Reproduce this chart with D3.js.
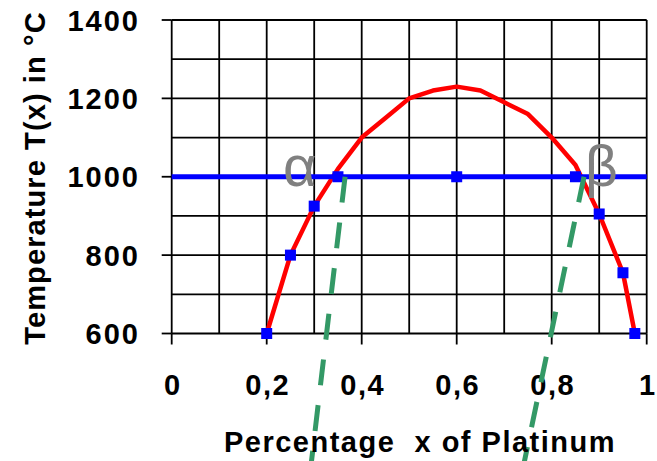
<!DOCTYPE html>
<html>
<head>
<meta charset="utf-8">
<script src="https://cdn.jsdelivr.net/npm/d3@7"></script>
<style>
  html, body { margin: 0; padding: 0; background: #fff; }
  svg { display: block; }
  text { font-family: "Liberation Sans", Arial, sans-serif; font-weight: bold; }
</style>
</head>
<body>
<svg id="vis" width="657" height="461"></svg>
<script>
// liquidus / solidus curve (red)
const curveX = [0.2, 0.25, 0.3, 0.35, 0.4, 0.45, 0.5, 0.55, 0.6, 0.65, 0.7, 0.75, 0.8, 0.85, 0.9, 0.95, 0.975];
const curveT = [600, 800, 925, 1020, 1100, 1150, 1200, 1220, 1230, 1220, 1190, 1160, 1100, 1030, 905, 755, 600];

// blue markers
const markX = [0.2, 0.25, 0.3, 0.35, 0.6, 0.85, 0.9, 0.95, 0.975];
const markT = [600, 800, 925, 1000, 1000, 1000, 905, 755, 600];

// horizontal line at T = 1000
const hLineX = [0, 1];
const hLineT = [1000, 1000];

// green dashed tangents
const tangentA = [[0.365, 1000], [0.29, 230]];
const tangentB = [[0.868, 1000], [0.735, 230]];

const xTicks = [0, 0.2, 0.4, 0.6, 0.8, 1];
const xTickLabels = ["0", "0,2", "0,4", "0,6", "0,8", "1"];
const yTicks = [600, 800, 1000, 1200, 1400];

const svg = d3.select("svg#vis");

const x = d3.scaleLinear().domain([0, 1]).range([171.7, 646.7]);
const y = d3.scaleLinear().domain([600, 1400]).range([333.5, 20]);

// grid
let grid = svg.append("g");
grid.selectAll("line.v")
    .data(d3.range(0, 11).map(d => d / 10))
    .enter().append("line")
    .attr("x1", d => x(d)).attr("x2", d => x(d))
    .attr("y1", y(1400)).attr("y2", y(600))
    .attr("stroke", "#000").attr("stroke-width", 1.8);
grid.selectAll("line.h")
    .data(d3.range(600, 1401, 100))
    .enter().append("line")
    .attr("x1", x(0)).attr("x2", x(1))
    .attr("y1", d => y(d)).attr("y2", d => y(d))
    .attr("stroke", "#000").attr("stroke-width", 1.8);

// axes ticks
grid.selectAll("line.xt")
    .data(xTicks)
    .enter().append("line")
    .attr("x1", d => x(d)).attr("x2", d => x(d))
    .attr("y1", y(600)).attr("y2", y(600) + 11)
    .attr("stroke", "#000").attr("stroke-width", 1.8);
grid.selectAll("line.yt")
    .data(yTicks)
    .enter().append("line")
    .attr("x1", x(0) - 10).attr("x2", x(0))
    .attr("y1", d => y(d)).attr("y2", d => y(d))
    .attr("stroke", "#000").attr("stroke-width", 1.8);

svg.selectAll("text.xl")
    .data(xTicks)
    .enter().append("text")
    .attr("x", d => x(d) + 1)
    .attr("y", 395)
    .attr("text-anchor", "middle")
    .attr("font-size", 29)
    .style("letter-spacing", "1.5px")
    .text((d, i) => xTickLabels[i]);

svg.selectAll("text.yl")
    .data(yTicks)
    .enter().append("text")
    .attr("x", 140)
    .attr("y", d => y(d) + 10.5)
    .attr("text-anchor", "end")
    .attr("font-size", 29)
    .style("letter-spacing", "2px")
    .text(d => d);

// red curve
const line = d3.line().x(d => x(d[0])).y(d => y(d[1]));
svg.append("path")
    .datum(curveX.map((d, i) => [d, curveT[i]]))
    .attr("d", line)
    .attr("fill", "none")
    .attr("stroke", "#ff0000")
    .attr("stroke-width", 4.5)
    .attr("stroke-linejoin", "round");

// blue horizontal
svg.append("path")
    .datum(hLineX.map((d, i) => [d, hLineT[i]]))
    .attr("d", line)
    .attr("fill", "none")
    .attr("stroke", "#0000ff")
    .attr("stroke-width", 5);

const ms = 11;
svg.selectAll("rect.mark")
    .data(markX.map((d, i) => [d, markT[i]]))
    .enter().append("rect")
    .attr("x", d => x(d[0]) - ms / 2)
    .attr("y", d => y(d[1]) - ms / 2)
    .attr("width", ms).attr("height", ms)
    .attr("fill", "#0000ff");

// green dashed
[tangentA, tangentB].forEach(t => {
    svg.append("path")
        .datum(t)
        .attr("d", line)
        .attr("fill", "none")
        .attr("stroke", "#339966")
        .attr("stroke-width", 5)
        .attr("stroke-dasharray", "26,20");
});

// phase labels
svg.append("text")
    .attr("x", 283).attr("y", 186)
    .style("font-weight", "normal")
    .attr("font-size", 58)
    .attr("fill", "#808080")
    .text("α");
svg.append("text")
    .attr("x", 585).attr("y", 186)
    .style("font-weight", "normal")
    .attr("font-size", 57)
    .attr("fill", "#808080")
    .text("β");

// axis titles
svg.append("text")
    .attr("x", 420).attr("y", 452)
    .attr("text-anchor", "middle")
    .attr("font-size", 29)
    .style("white-space", "pre")
    .style("letter-spacing", "1.5px")
    .text("Percentage  x of Platinum");

svg.append("text")
    .attr("transform", "translate(45,178) rotate(-90)")
    .attr("text-anchor", "middle")
    .attr("font-size", 29)
    .style("letter-spacing", "1.1px")
    .text("Temperature T(x) in °C");
</script>
</body>
</html>
